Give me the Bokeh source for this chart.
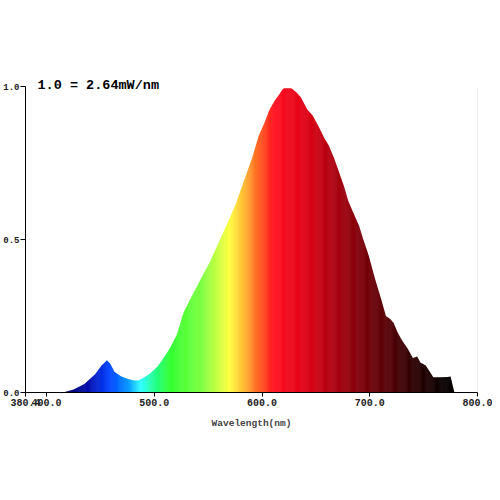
import numpy as np
from bokeh.plotting import figure
from bokeh.models import Range1d, FixedTicker, Title
from bokeh.embed import file_html
from bokeh.resources import INLINE

# ---- data ----
wavelength = [380.4, 415, 425, 435, 445, 451, 456, 459, 463, 469, 475, 480, 485, 490,
              496, 503, 509, 515, 521, 527, 534, 543, 552, 561, 570, 576, 582, 591,
              597, 602, 607, 612, 616, 619, 622, 625, 628, 632, 636, 642, 647, 653,
              658, 662, 667, 671, 676, 680, 685, 690, 694, 699, 705, 711, 715, 719,
              722, 726, 730, 735, 740, 744, 747, 752, 755, 759, 765, 772, 775, 778.6, 800]
intensity = [0.0, 0.0, 0.01, 0.028, 0.06, 0.088, 0.105, 0.095, 0.068, 0.053, 0.045, 0.040,
             0.039, 0.048, 0.062, 0.085, 0.115, 0.148, 0.19, 0.26, 0.31, 0.37, 0.43, 0.50,
             0.57, 0.62, 0.68, 0.77, 0.84, 0.88, 0.925, 0.955, 0.975, 0.99, 1.0, 0.998,
             0.993, 0.98, 0.965, 0.925, 0.905, 0.866, 0.83, 0.807, 0.765, 0.725, 0.675,
             0.627, 0.585, 0.546, 0.5, 0.448, 0.37, 0.30, 0.25, 0.24, 0.228, 0.195, 0.17,
             0.145, 0.113, 0.118, 0.098, 0.088, 0.072, 0.05, 0.05, 0.051, 0.052, 0.0, 0.0]
x_ticks = [380.4, 400, 500, 600, 700, 800]
x_tick_labels = ["380.4", "400.0", "500.0", "600.0", "700.0", "800.0"]
y_ticks = [0.0, 0.5, 1.0]
y_tick_labels = ["0.0", "0.5", "1.0"]
title_text = "1.0 = 2.64mW/nm"
x_title = "Wavelength(nm)"

# ---- spectral colour map (style) ----
stops = [(380, "#000050"), (420, "#000070"), (440, "#0010b0"), (458, "#0040ff"),
         (475, "#0090ff"), (488, "#30ffff"), (500, "#20ff90"), (515, "#30ff30"),
         (545, "#80ff40"), (570, "#ffff40"), (585, "#ffb030"), (597, "#ff6020"),
         (612, "#ff1020"), (640, "#e00015"), (665, "#b00010"), (700, "#700008"),
         (740, "#300004"), (770, "#080000"), (800, "#000000")]
sw = np.array([s[0] for s in stops], float)
srgb = np.array([[int(s[1][i:i + 2], 16) for i in (1, 3, 5)] for s in stops], float)

edges = np.arange(380.4, 800.01, 1.0)
left = edges[:-1]
right = edges[1:]
mid = (left + right) / 2
cols = []
for m in mid:
    c = [int(round(np.interp(m, sw, srgb[:, k]))) for k in range(3)]
    cols.append("#%02x%02x%02x" % tuple(c))

FONT = "Liberation Mono"

p = figure(width=492, height=438, output_backend="svg", toolbar_location=None,
           x_range=Range1d(380.4, 800), y_range=Range1d(0, 1.0),
           min_border_left=23, min_border_top=86, min_border_right=15, min_border_bottom=46)
p.outline_line_color = None
p.xgrid.visible = False
p.ygrid.visible = False
p.background_fill_color = "white"
p.border_fill_color = "white"

# colour strips, then white mask above the spectrum curve
p.quad(left=left, right=right, bottom=0, top=0.993, fill_color=cols, line_color=cols, line_width=0.6)
p.varea(x=wavelength, y1=intensity, y2=[1.4] * len(wavelength), fill_color="white")

# axes
xa = p.xaxis[0]
xa.ticker = FixedTicker(ticks=x_ticks)
xa.major_label_overrides = {t: l for t, l in zip(x_ticks, x_tick_labels)}
xa.minor_tick_line_color = None
xa.major_tick_out = 4
xa.major_tick_in = 0
xa.major_label_standoff = 2
xa.major_label_text_font = FONT
xa.major_label_text_font_style = "bold"
xa.major_label_text_font_size = "10px"
xa.major_label_text_color = "#222222"
xa.axis_label = x_title
xa.axis_label_text_font = FONT
xa.axis_label_text_font_style = "bold"
xa.axis_label_text_font_size = "9.5px"
xa.axis_label_standoff = 9
xa.axis_line_color = "black"

ya = p.yaxis[0]
ya.ticker = FixedTicker(ticks=y_ticks)
ya.major_label_overrides = {t: l for t, l in zip(y_ticks, y_tick_labels)}
ya.minor_tick_line_color = None
ya.major_tick_out = 5
ya.major_tick_in = 0
ya.major_label_standoff = 1
ya.major_label_text_font = FONT
ya.major_label_text_font_style = "bold"
ya.major_label_text_font_size = "9px"
ya.major_label_text_color = "#222222"
ya.axis_line_color = "black"

t = Title(text=title_text, align="left", offset=12, text_font=FONT, text_font_style="bold",
          text_font_size="13.5px", text_color="black", standoff=-13)
p.add_layout(t, "above")

open("out.html", "w").write(file_html(p, INLINE))
